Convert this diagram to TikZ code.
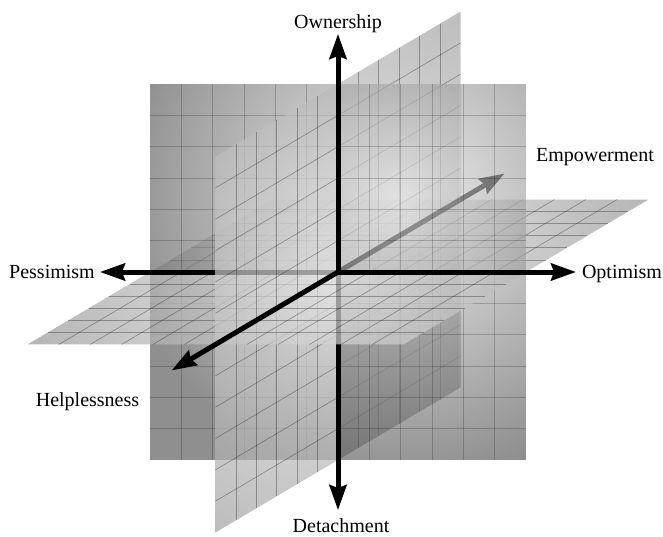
\documentclass[tikz,border=0pt]{standalone}
\usepackage{fontspec}
\setmainfont{Liberation Serif}
\usetikzlibrary{arrows.meta}
\definecolor{fin}{gray}{0.90}
\definecolor{fout}{gray}{0.33}
\definecolor{hin}{gray}{0.90}
\definecolor{hout}{gray}{0.60}
\definecolor{sin}{gray}{0.90}
\definecolor{sout}{gray}{0.62}
\definecolor{sdark}{gray}{0.50}
\begin{document}
\begin{tikzpicture}[x=1pt,y=1pt,
  gridln/.style={draw=black,draw opacity=0.3,line width=0.7pt},
  fgridln/.style={draw=black,draw opacity=0.2,line width=0.9pt},
  axisline/.style={line width=5pt,-{Stealth[length=25pt,width=17pt,inset=3pt]}},
  lbl/.style={font=\fontsize{20}{24}\selectfont,inner sep=0pt,anchor=base},
  hshade/.style={inner color=hin,outer color=hout,fill opacity=0.7},
  sshade/.style={inner color=sin,outer color=sout,fill opacity=0.7},
]
\fill[white] (0,0) rectangle (663,536);
\useasboundingbox (0,0) rectangle (663,536);
\begin{scope}[shift={(338pt,264pt)},x={(31.33pt,0pt)},y={(0pt,31.33pt)},z={(20.42pt,12.08pt)}]
  \coordinate (O) at (0,0,0);
  \coordinate (tipU) at (0,7.6,0);
  \coordinate (tipD) at (0,-7.6,0);
  \coordinate (tipW) at (-7.6,0,0);
  \coordinate (tipR) at (7.6,0,0);
  \coordinate (tipE) at (0,0,8.15);
  \coordinate (tipH) at (0,0,-8.15);
  % ---------- back quadrants ----------
  % horizontal back-left
  \begin{scope}
    \clip (0,0,0)--(-6,0,0)--(-6,0,6)--(0,0,6)--cycle;
    \shade[hshade] (-310pt,-310pt) rectangle (310pt,310pt);
  \end{scope}
  \foreach \i in {-5,...,-1} \draw[gridln] (\i,0,0)--(\i,0,6);
  \foreach \j in {1,...,5} \draw[gridln] (-6,0,\j)--(0,0,\j);
  % sagittal back-lower
  \fill[sdark,fill opacity=0.7] (0,0,0)--(0,-6,0)--(0,-6,6)--(0,0,6)--cycle;
  \foreach \k in {1,...,5} \draw[gridln] (0,0,\k)--(0,-6,\k);
  \foreach \j in {-5,...,-1} \draw[gridln] (0,\j,0)--(0,\j,6);
  % sagittal back-upper
  \begin{scope}
    \clip (0,0,0)--(0,6,0)--(0,6,6)--(0,0,6)--cycle;
    \shade[sshade] (-300pt,-300pt) rectangle (300pt,300pt);
  \end{scope}
  \foreach \k in {1,...,5} \draw[gridln] (0,0,\k)--(0,6,\k);
  \foreach \j in {1,...,5} \draw[gridln] (0,\j,0)--(0,\j,6);
  % horizontal back-right
  \begin{scope}
    \clip (0,0,0)--(6,0,0)--(6,0,6)--(0,0,6)--cycle;
    \shade[hshade] (-310pt,-310pt) rectangle (310pt,310pt);
  \end{scope}
  \foreach \i in {1,...,5} \draw[gridln] (\i,0,0)--(\i,0,6);
  \foreach \j in {1,...,5} \draw[gridln] (0,0,\j)--(6,0,\j);
  % Empowerment axis (behind the frontal plane)
  \draw[axisline] (O) -- (tipE);
  % ---------- frontal plane ----------
  \begin{scope}
    \clip (-6,-6,0) rectangle (6,6,0);
    \shade[inner color=fin,outer color=fout,fill opacity=0.65] (-218pt,-208pt) rectangle (342pt,352pt);
  \end{scope}
  \foreach \i in {-5,...,5} {
    \draw[fgridln] (\i,-6,0)--(\i,6,0);
    \draw[fgridln] (-6,\i,0)--(6,\i,0);
  }
  % ---------- front quadrants ----------
  % horizontal front-left
  \begin{scope}
    \clip (0,0,0)--(-6,0,0)--(-6,0,-6)--(0,0,-6)--cycle;
    \shade[hshade] (-310pt,-310pt) rectangle (310pt,310pt);
  \end{scope}
  \foreach \i in {-5,...,-1} \draw[gridln] (\i,0,0)--(\i,0,-6);
  \foreach \j in {-5,...,-1} \draw[gridln] (-6,0,\j)--(0,0,\j);
  \draw[axisline] (O) -- (tipW);
  % sagittal front-lower
  \begin{scope}
    \clip (0,0,0)--(0,-6,0)--(0,-6,-6)--(0,0,-6)--cycle;
    \shade[sshade] (-300pt,-300pt) rectangle (300pt,300pt);
  \end{scope}
  \foreach \k in {-5,...,-1} \draw[gridln] (0,0,\k)--(0,-6,\k);
  \foreach \j in {-5,...,-1} \draw[gridln] (0,\j,0)--(0,\j,-6);
  \draw[axisline] (O) -- (tipD);
  % sagittal front-upper
  \begin{scope}
    \clip (0,0,0)--(0,6,0)--(0,6,-6)--(0,0,-6)--cycle;
    \shade[sshade] (-300pt,-300pt) rectangle (300pt,300pt);
  \end{scope}
  \foreach \k in {-5,...,-1} \draw[gridln] (0,0,\k)--(0,6,\k);
  \foreach \j in {1,...,5} \draw[gridln] (0,\j,0)--(0,\j,-6);
  % horizontal front-right
  \begin{scope}
    \clip (0,0,0)--(6,0,0)--(6,0,-6)--(0,0,-6)--cycle;
    \shade[hshade] (-310pt,-310pt) rectangle (310pt,310pt);
  \end{scope}
  \foreach \i in {1,...,5} \draw[gridln] (\i,0,0)--(\i,0,-6);
  \foreach \j in {-5,...,-1} \draw[gridln] (0,0,\j)--(6,0,\j);
  % ---------- front axes ----------
  \draw[axisline] (O) -- (tipU);
  \draw[axisline] (O) -- (tipR);
  \draw[axisline] (O) -- (tipH);
\end{scope}
% ---------- labels ----------
\node[lbl] (lown) at (338,507) {Ownership};
\node[lbl] (ldet) at (341,4) {Detachment};
\node[lbl] (lpes) at (52,258) {Pessimism};
\node[lbl] (lopt) at (622,258) {Optimism};
\node[lbl] (lemp) at (595,374) {Empowerment};
\node[lbl] (lhel) at (87.5,130) {Helplessness};
\end{tikzpicture}
\end{document}
